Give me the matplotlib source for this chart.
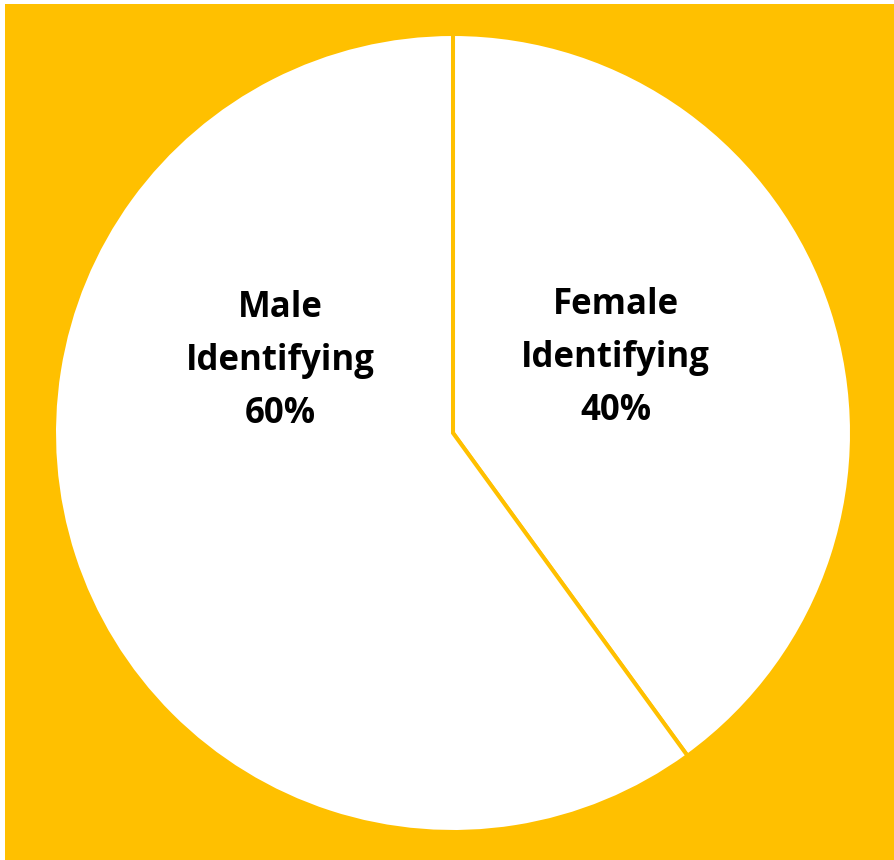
import matplotlib
matplotlib.use("Agg")
import matplotlib.pyplot as plt

categories = ["Female\nIdentifying", "Male\nIdentifying"]
values = [40, 60]
label_pos = [(0.408, 0.188), (-0.433, 0.180)]

ORANGE = "#FFC000"
W, H = 894, 860
fig = plt.figure(figsize=(W / 100, H / 100), dpi=100, facecolor="white")
bg = fig.add_axes([5 / W, 0, 1 - 5 / W, (H - 4) / H], zorder=-5)
bg.set_facecolor(ORANGE)
bg.set_xticks([])
bg.set_yticks([])
for s in bg.spines.values():
    s.set_visible(False)

cx, cy, r = 453, H - 433, 399
ax = fig.add_axes([(cx - r) / W, (cy - r) / H, 2 * r / W, 2 * r / H], zorder=1)
ax.set_facecolor("none")
ax.pie(values, startangle=90, counterclock=False, radius=1,
       colors=["white", "white"],
       wedgeprops=dict(edgecolor=ORANGE, linewidth=2.9))
ax.set_xlim(-1, 1)
ax.set_ylim(-1, 1)
ax.axis("off")

for cat, v, (x, y) in zip(categories, values, label_pos):
    ax.text(x, y, f"{cat}\n{v}%", ha="center", va="center", fontsize=25,
            fontweight="bold", family="Open Sans", linespacing=1.63, color="black")

fig.savefig("out.png", dpi=100, facecolor=fig.get_facecolor())
